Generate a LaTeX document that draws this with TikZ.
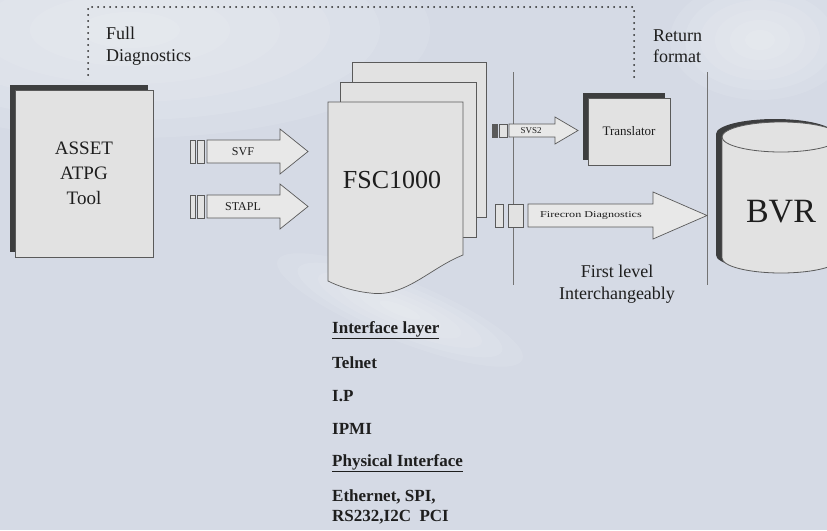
\documentclass[tikz,border=0pt]{standalone}
\usepackage{fontspec}
\setmainfont{Liberation Serif}
\usetikzlibrary{positioning,calc,shadows}
\definecolor{BgBlue}{RGB}{213,218,229}
\definecolor{BoxGray}{RGB}{226,226,226}
\definecolor{EdgeGray}{RGB}{90,90,90}
\definecolor{InkDark}{RGB}{30,30,30}
\definecolor{ShadowDark}{RGB}{35,35,35}

\begin{document}
\begin{tikzpicture}[x=1pt,y=-1pt,every node/.style={font=\fontsize{18}{21.5}\selectfont,text=InkDark,inner sep=0pt}]
\tikzset{box/.style={draw=EdgeGray,fill=BoxGray,line width=.8pt,align=center},
  boxshadow/.style={drop shadow={shadow xshift=-5pt,shadow yshift=5pt,fill=ShadowDark,opacity=.85}},
  page/.style={draw=EdgeGray,fill=BoxGray,line width=.7pt},
  fatarrow/.style={draw=EdgeGray,fill=BoxGray!80!white,line width=.7pt},
  stripe/.style={draw=EdgeGray,fill=BoxGray,line width=.7pt},
  diag/.style={dash pattern=on 0pt off 6pt,line width=2pt,line cap=round,black!85},
  sepline/.style={black!55,line width=.5pt},
  glow/.style={fill=white,opacity=.09},
  arrowlabel/.style={font=\fontsize{12}{14}\selectfont},
  listitem/.style={font=\bfseries\fontsize{17}{20}\selectfont,anchor=west,align=left}}
\useasboundingbox (0,0) rectangle (827,530);
\clip (0,0) rectangle (827,530);
% backdrop
\fill[BgBlue] (0,0) rectangle (827,530);
\foreach \r in {1,...,6} {
  \fill[glow] (130,30) ellipse [x radius=\r*50pt,y radius=\r*18pt];
  \fill[glow,rotate around={-22:(400,310)}] (400,310) ellipse [x radius=\r*22pt,y radius=\r*5pt];
  \fill[glow] (760,40) ellipse [x radius=\r*15pt,y radius=\r*10pt];
}

% dotted diagnostics loop
\coordinate (fdL) at (88,75);
\coordinate (fdR) at (634,78);
\coordinate (fdTop) at (361,7);
\draw[diag] (fdL) |- (fdTop) -| (fdR);
\node[anchor=west,align=left] (fulldiag) at (106,46) {Full\\Diagnostics};
\node[anchor=west,align=left] (retfmt) at (653,46) {Return\\format};

% separators
\draw[sepline] (513,72) -- (513,285);
\draw[sepline] (707,72) -- (707,285);

% ATPG tool
\node[box,boxshadow,minimum width=138pt,minimum height=167pt,font=\fontsize{19}{25}\selectfont] (asset) at (84,173.5) {ASSET\\ATPG\\Tool};

% SVF / STAPL
\draw[stripe] (190,140) rectangle (195,163);
\draw[stripe] (197,140) rectangle (204,163);
\draw[fatarrow] (207,140) -- (280,140) -- (280,129) -- (308,151.5) -- (280,174) -- (280,163) -- (207,163) -- cycle;
\node[arrowlabel] (svf) at (243,151.5) {SVF};
\draw[stripe] (190,195) rectangle (195,218);
\draw[stripe] (197,195) rectangle (204,218);
\draw[fatarrow] (207,195) -- (280,195) -- (280,184) -- (308,206.5) -- (280,229) -- (280,218) -- (207,218) -- cycle;
\node[arrowlabel] (stapl) at (243,206.5) {STAPL};

% FSC1000 stack
\draw[page] (352,62) rectangle (486,217);
\draw[page] (340,82) rectangle (476,237);
\draw[page] (328,102) -- (463,102) -- (463,255) .. controls (430,268) and (405,298) .. (370,293) .. controls (352,291) and (338,286) .. (328,281) -- cycle;
\node[font=\fontsize{26}{30}\selectfont] (fsc) at (392,180) {FSC1000};

% SVS2 to translator
\draw[stripe,fill=EdgeGray] (492,124) rectangle (497,137);
\draw[stripe] (499,124) rectangle (507,137);
\draw[fatarrow] (509,124) -- (555,124) -- (555,117) -- (578,130.5) -- (555,144) -- (555,137) -- (509,137) -- cycle;
\node[font=\fontsize{9}{10}\selectfont] (svs) at (531,130.5) {SVS2};
\node[box,boxshadow,minimum width=82pt,minimum height=67pt,font=\fontsize{13}{15}\selectfont] (trans) at (629,131.5) {Translator};

% diagnostics to BVR
\draw[stripe] (495,204) rectangle (503,227);
\draw[stripe] (508,204) rectangle (523,227);
\draw[fatarrow] (528,204) -- (653,204) -- (653,192) -- (707,215.5) -- (653,239) -- (653,227) -- (528,227) -- cycle;
\node[font=\fontsize{9}{10}\selectfont] (fdiag) at (591,215.5) {\scalebox{1.35}[1]{Firecron Diagnostics}};
\node[align=center] (firstlvl) at (617,284) {First level\\Interchangeably};

% BVR store
\fill[ShadowDark,opacity=.85] (716,134) -- (716,255) arc (180:360:59pt and 15pt) -- (834,134) arc (0:180:59pt and 15pt) -- cycle;
\draw[page,line width=.8pt] (722,137) -- (722,258) arc (180:360:59pt and 15pt) -- (840,137) arc (0:180:59pt and 15pt) -- cycle;
\draw[EdgeGray,line width=.8pt] (722,137) arc (180:360:59pt and 15pt);
\node[font=\fontsize{34}{40}\selectfont] (bvr) at (781,212) {BVR};

% interfaces
\node[listitem] (iflayer) at (332,330) {\underline{Interface layer}};
\node[listitem,below=33pt of iflayer.west,anchor=west] (telnet) {Telnet};
\node[listitem,below=33pt of telnet.west,anchor=west] (ip) {I.P};
\node[listitem,below=33pt of ip.west,anchor=west] (ipmi) {IPMI};
\node[listitem,below=34pt of ipmi.west,anchor=west] (phys) {\underline{Physical Interface}};
\node[listitem,below=44pt of phys.west,anchor=west] (buses) {Ethernet, SPI,\\RS232,I2C\ \ PCI};
\end{tikzpicture}
\end{document}
